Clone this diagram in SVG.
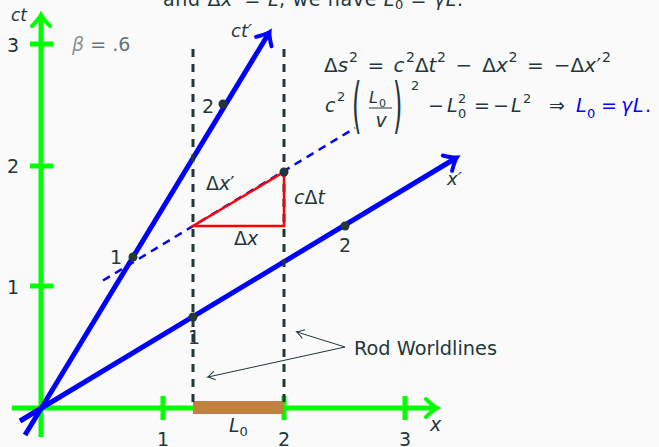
<svg xmlns="http://www.w3.org/2000/svg" width="659" height="447" viewBox="0 0 659 447">
<defs>
<style>
text{font-family:"DejaVu Sans","Liberation Sans",sans-serif;font-size:19px;fill:#23373b}
.i{font-style:italic}
.s{font-size:13px}
.f text{font-size:20px}
.f text.s{font-size:14px}
.g{stroke:#00ff00;stroke-width:5;fill:none}
.b{stroke:#0000ff;stroke-width:5;fill:none}
.wl{stroke:#23373b;stroke-width:3;stroke-dasharray:8 7;fill:none}
.dot{fill:#23373b}
.bl{fill:#0000ff}
</style>
<marker id="ag" markerUnits="userSpaceOnUse" markerWidth="30" markerHeight="30" refX="0" refY="0" orient="auto" overflow="visible" style="overflow:visible">
<path d="M -10 -9 Q -3 -2 1 0 Q -3 2 -10 9" fill="none" stroke="#00ff00" stroke-width="4" stroke-linecap="round"/>
</marker>
<marker id="ab" markerUnits="userSpaceOnUse" markerWidth="30" markerHeight="30" refX="0" refY="0" orient="auto" overflow="visible" style="overflow:visible">
<path d="M -10 -9 Q -3 -2 1 0 Q -3 2 -10 9" fill="none" stroke="#0000ff" stroke-width="4" stroke-linecap="round"/>
</marker>
<marker id="at" markerUnits="userSpaceOnUse" markerWidth="20" markerHeight="20" refX="0" refY="0" orient="auto" overflow="visible" style="overflow:visible">
<path d="M -7 -4.5 Q -2 -1 0.5 0 Q -2 1 -7 4.5" fill="none" stroke="#23373b" stroke-width="1"/>
</marker>
</defs>
<rect width="659" height="447" fill="#fafafa"/>

<text x="163" y="6" textLength="300" lengthAdjust="spacing">and Δ<tspan class="i">x</tspan>′ = <tspan class="i">L</tspan>, we have <tspan class="i">L</tspan><tspan class="s" dy="3">0</tspan><tspan dy="-3"> = </tspan><tspan class="i">γL</tspan>.</text>

<g id="axes">
<line class="g" x1="12" y1="408" x2="436" y2="408" marker-end="url(#ag)"/>
<line class="g" x1="41" y1="437" x2="41" y2="16" marker-end="url(#ag)"/>
<path class="g" d="M30 44H53M30 166H53M30 286H53M163 396V420M284 396V420M405 396V420"/>
</g>

<g id="primed-axes">
<line class="b" x1="25" y1="435" x2="269" y2="33" marker-end="url(#ab)"/>
<line class="b" x1="20" y1="421" x2="456" y2="158" marker-end="url(#ab)"/>
</g>

<g id="connectors">
<line x1="103" y1="280.5" x2="355" y2="128" stroke="#0000ff" stroke-width="2.5" stroke-dasharray="8 6"/>
<rect id="rod" x="193" y="401" width="91" height="13" fill="#bf8040"/>
<line class="wl" x1="193" y1="49" x2="193" y2="408"/>
<line class="wl" x1="284" y1="49" x2="284" y2="408"/>
<path d="M193 226H284V172Z" fill="none" stroke="#ff0000" stroke-width="2.5" stroke-linejoin="miter"/>
<line x1="345" y1="347" x2="297" y2="332" stroke="#23373b" stroke-width="1" marker-end="url(#at)"/>
<line x1="345" y1="347" x2="208" y2="377" stroke="#23373b" stroke-width="1" marker-end="url(#at)"/>
</g>

<g id="events">
<circle class="dot" cx="133" cy="257" r="4.5"/>
<circle class="dot" cx="223" cy="104" r="4.5"/>
<circle class="dot" cx="193" cy="317" r="4.5"/>
<circle class="dot" cx="345" cy="226" r="4.5"/>
<circle class="dot" cx="284" cy="172" r="4.5"/>
</g>

<g id="labels">
<text class="i" x="11" y="21" style="font-size:17px">ct</text>
<text x="7" y="52">3</text>
<text x="7" y="173">2</text>
<text x="7" y="294">1</text>
<text x="163" y="446" text-anchor="middle">1</text>
<text x="284" y="446" text-anchor="middle">2</text>
<text x="405" y="446" text-anchor="middle">3</text>
<text class="i" x="430" y="431">x</text>
<text x="72" y="51"><tspan class="i" style="fill:#8a9498">β</tspan><tspan style="fill:#66737a"> = .6</tspan></text>
<text class="i" x="231" y="37" style="font-size:18px">ct′</text>
<text class="i" x="447" y="185" style="font-size:18px">x′</text>
<text x="202" y="113">2</text>
<text x="110" y="264">1</text>
<text x="188" y="344">1</text>
<text x="339" y="252">2</text>
<text x="206" y="190">Δ<tspan class="i">x</tspan>′</text>
<text x="294" y="204"><tspan class="i">c</tspan>Δ<tspan class="i">t</tspan></text>
<text x="234" y="245">Δ<tspan class="i">x</tspan></text>
<text class="i" x="229" y="432">L<tspan class="s" dy="4" style="font-style:normal">0</tspan></text>
<text x="354" y="355" textLength="143" lengthAdjust="spacingAndGlyphs">Rod Worldlines</text>
</g>

<g id="formula1" class="f">
<text x="324" y="72">Δ</text>
<text class="i" x="337.7" y="72">s</text>
<text class="s" x="349" y="62">2</text>
<text x="375.8" y="72" text-anchor="middle">=</text>
<text class="i" x="393.5" y="72">c</text>
<text class="s" x="406" y="62">2</text>
<text x="415" y="72">Δ</text>
<text class="i" x="428.5" y="72">t</text>
<text class="s" x="437" y="62">2</text>
<text x="463.8" y="72" text-anchor="middle">−</text>
<text x="482.2" y="72">Δ</text>
<text class="i" x="495.9" y="72">x</text>
<text class="s" x="508.5" y="62">2</text>
<text x="535.3" y="72" text-anchor="middle">=</text>
<text x="562.1" y="72" text-anchor="middle">−</text>
<text x="570.5" y="72">Δ</text>
<text class="i" x="584.2" y="72">x</text>
<text x="596.5" y="72">′</text>
<text class="s" x="602" y="62">2</text>
</g>

<g id="formula2">
<text class="i" x="325" y="112">c</text>
<text class="s" x="337" y="101">2</text>
<text transform="translate(352,125.5) scale(1,2.5)" style="font-size:24px">(</text>
<text class="i" x="369" y="103" style="font-size:16px">L</text>
<text x="379" y="107" style="font-size:11px">0</text>
<line x1="369" y1="108" x2="392" y2="108" stroke="#23373b" stroke-width="1"/>
<text class="i" x="381" y="127" text-anchor="middle">v</text>
<text transform="translate(393,125.5) scale(1,2.5)" style="font-size:24px">)</text>
<text class="s" x="411" y="90">2</text>
<text x="436" y="112" text-anchor="middle">−</text>
<text class="i" x="447" y="112">L</text>
<text class="s" x="458" y="118">0</text>
<text class="s" x="458" y="103">2</text>
<text x="482" y="112" text-anchor="middle">=</text>
<text x="501" y="112" text-anchor="middle">−</text>
<text class="i" x="511" y="112">L</text>
<text class="s" x="523" y="103">2</text>
<text x="557" y="112" text-anchor="middle">⇒</text>
<text class="i bl" x="576" y="112">L</text>
<text class="s bl" x="587" y="118">0</text>
<text class="bl" x="609" y="112" text-anchor="middle">=</text>
<text class="i bl" x="621" y="112">γ</text>
<text class="i bl" x="633" y="112">L</text>
<text class="bl" x="645" y="112">.</text>
</g>
</svg>
